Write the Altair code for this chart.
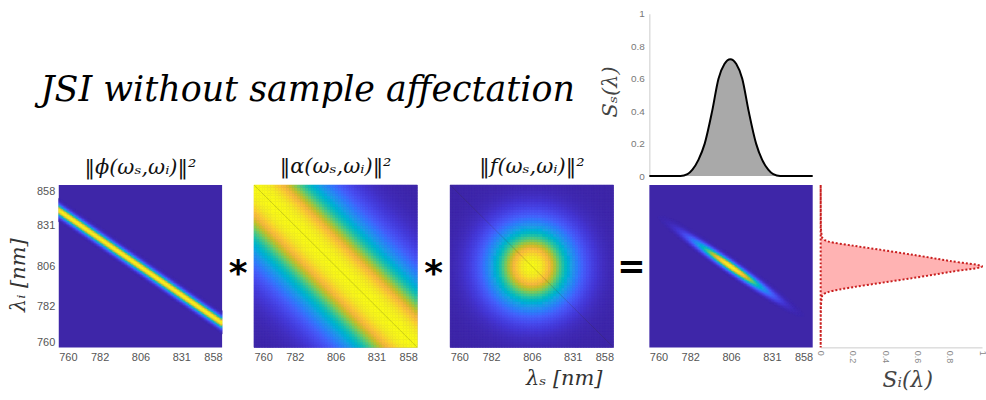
import json
import numpy as np
import pandas as pd
import altair as alt

# ---------------- data ----------------
TITLE = "JSI without sample affectation"
PANEL_TITLES = ["‖ϕ(ωₛ,ωᵢ)‖²", "‖α(ωₛ,ωᵢ)‖²", "‖f(ωₛ,ωᵢ)‖²"]
OPERATORS = ["*", "*", "="]
TICK_LABELS = ["760", "782", "806", "831", "858"]
LAM_MIN, LAM_MAX = 760.0, 858.0

# signal marginal (top)
SS_LAMBDA = [760, 776.9, 780.8, 783.6, 787.0, 790.6, 794.9, 798.6, 802.1, 805.6,
             809.2, 812.8, 816.7, 821.3, 825.1, 828.9, 832.1, 836.5, 858]
SS_VALUE = [0, 0, 0.012, 0.04, 0.1, 0.2, 0.4, 0.6, 0.69, 0.72,
            0.69, 0.6, 0.4, 0.2, 0.1, 0.04, 0.012, 0, 0]

# idler marginal (right)
SI_LAMBDA = [760, 781.0, 785.5, 788.7, 790.9, 793.6, 796.5, 799.4, 802.6, 805.9,
             809.2, 812.5, 815.6, 818.6, 821.1, 823.6, 826.7, 831.8, 858]
SI_VALUE = [0, 0.001, 0.004, 0.01, 0.05, 0.2, 0.4, 0.6, 0.8, 1.0,
            0.8, 0.6, 0.4, 0.2, 0.05, 0.01, 0.004, 0.001, 0]

MARGINAL_TICKS = [0, 0.2, 0.4, 0.6, 0.8, 1]

# degenerate anti-diagonal drawn faintly over the pump and filter maps
DIAG_SIGNAL = [760, 858]
DIAG_IDLER = [858, 760]

# model parameters of the three factor maps (axis units: 0 = 760 nm, 1 = 858 nm)
PM_INTERCEPT = 0.847
PM_SLOPE = -0.694
PM_WIDTH = 0.022
PUMP_WIDTH = 0.28
FILTER_CENTER = (0.5, 0.5)
FILTER_WIDTH = 0.171

PARULA = ["#3E26A8", "#4537D5", "#484DF0", "#4563FD", "#327CFC", "#2B91EF",
          "#20A5E3", "#08B5D0", "#19BFB6", "#37C897", "#64CD6F", "#9DC943",
          "#D1BF27", "#F8BA3D", "#FCCF30", "#F5E924", "#F9FB15"]


def lam_to_t(lam):
    lam = np.asarray(lam, dtype=float)
    return (1 / LAM_MIN - 1 / lam) / (1 / LAM_MIN - 1 / LAM_MAX)


def fields(n):
    c = (np.arange(n) + 0.5) / n
    S, I = np.meshgrid(c, c)
    phi = np.exp(-((I - (PM_INTERCEPT + PM_SLOPE * S)) ** 2) / (2 * PM_WIDTH ** 2))
    alpha = np.exp(-((I - (1 - S)) ** 2) / (2 * PUMP_WIDTH ** 2))
    f = np.exp(-((S - FILTER_CENTER[0]) ** 2 + (I - FILTER_CENTER[1]) ** 2) / (2 * FILTER_WIDTH ** 2))
    jsi = phi * alpha * f
    jsi = jsi / jsi.max()
    return phi, alpha, f, jsi


def to_df(V, threshold=0.0):
    n = V.shape[0]
    j, i = np.meshgrid(np.arange(n), np.arange(n))
    x0 = (j / n).ravel()
    y0 = (i / n).ravel()
    v = V.ravel()
    m = v > threshold
    return pd.DataFrame({"x0": np.round(x0[m], 5), "x1": np.round(x0[m] + 1 / n, 5),
                         "y0": np.round(y0[m], 5), "y1": np.round(y0[m] + 1 / n, 5),
                         "v": np.round(v[m], 4)})


phi_f, _, _, jsi_f = fields(110)
_, alpha_c, f_c, _ = fields(60)
df_phi = to_df(phi_f, 0.006)
df_alpha = to_df(alpha_c)
df_f = to_df(f_c)
df_jsi = to_df(jsi_f, 0.006)

ss_df = pd.DataFrame({"t": lam_to_t(SS_LAMBDA), "S": SS_VALUE})
si_df = pd.DataFrame({"t": lam_to_t(SI_LAMBDA), "S": SI_VALUE})
diag_df = pd.DataFrame({"ts": lam_to_t(DIAG_SIGNAL), "ti": lam_to_t(DIAG_IDLER)})

# ---------------- styling ----------------
W, H = 164, 163
LABEL_FONT = "Liberation Sans"
SERIF = "DejaVu Serif"
cscale = alt.Scale(domain=[0, 1], range=PARULA)
unit = alt.Scale(domain=[0, 1], nice=False, zero=False)
label_expr = json.dumps(TICK_LABELS) + "[round(datum.value*4)]"


def heat_axis(**kw):
    base = dict(values=[0, 0.25, 0.5, 0.75, 1], labelExpr=label_expr, ticks=False,
                domain=False, grid=False, labelFont=LABEL_FONT, labelFontSize=11,
                labelColor="#555555", labelPadding=4, labelFlush=True, labelOverlap=False,
                title=None, titleFont=SERIF, titleFontStyle="italic", titleFontWeight="normal",
                titleFontSize=21, titleColor="#333333")
    base.update(kw)
    return alt.Axis(**base)


def heat(df, title=None, yaxis=None, xaxis_kw=None, diag=False):
    props = dict(width=W, height=H, view=alt.ViewBackground(fill=PARULA[0], strokeWidth=0))
    if title:
        props["title"] = alt.TitleParams(text=title, font=SERIF, fontStyle="italic",
                                         fontWeight="normal", fontSize=21, color="#111111",
                                         offset=7, anchor="middle")
    xaxis = heat_axis(**(xaxis_kw or {}))
    rects = alt.Chart(df).mark_rect(strokeWidth=0.6).encode(
        x=alt.X("x0:Q", scale=unit, axis=xaxis),
        x2="x1:Q",
        y=alt.Y("y0:Q", scale=unit, axis=yaxis),
        y2="y1:Q",
        fill=alt.Fill("v:Q", scale=cscale, legend=None),
        stroke=alt.Stroke("v:Q", scale=cscale, legend=None),
    )
    if not diag:
        return rects.properties(**props)
    line = alt.Chart(diag_df).mark_line(color="#3a3020", strokeWidth=0.7, opacity=0.3).encode(
        x=alt.X("ts:Q", scale=unit, axis=xaxis), y=alt.Y("ti:Q", scale=unit, axis=yaxis))
    return alt.layer(rects, line).properties(**props)


p1 = heat(df_phi, PANEL_TITLES[0],
          yaxis=heat_axis(title="λᵢ [nm]", titleAngle=-90, titleX=-40, titleY=90,
                          titleAlign="center", titleBaseline="middle"))
p2 = heat(df_alpha, PANEL_TITLES[1], diag=True)
p3 = heat(df_f, PANEL_TITLES[2], diag=True,
          xaxis_kw=dict(title="λₛ [nm]", titleX=114, titleY=37, titleAlign="center",
                        titleBaseline="alphabetic"))
p4 = heat(df_jsi)


def text_cell(txt, w, x, y, **mark):
    return alt.Chart(pd.DataFrame({"s": [txt]})).mark_text(**mark).encode(
        text="s:N", x=alt.value(x), y=alt.value(y)).properties(width=w, height=H)


def op_chart(sym, w, size, dy):
    return text_cell(sym, w, w / 2, H / 2, font="DejaVu Sans", fontWeight="bold",
                     fontSize=size, align="center", baseline="alphabetic", dy=dy, color="black")


def blank(w):
    return text_cell("", w, 0, 0)


op1 = op_chart(OPERATORS[0], 32, 36, 19)
op2 = op_chart(OPERATORS[1], 33, 36, 19)
op3 = op_chart(OPERATORS[2], 36, 34, 12)

title_chart = text_cell(TITLE, W, 250, 77, font=SERIF, fontStyle="italic", fontSize=35,
                        align="center", baseline="middle", color="black")

top_axis = alt.Axis(values=MARGINAL_TICKS, format="~g", ticks=False, grid=False,
                    domainColor="#cccccc", labelColor="#777777", labelFontSize=10,
                    labelFont=LABEL_FONT, labelPadding=5, labelOverlap=False,
                    title="Sₛ(λ)", titleFont=SERIF,
                    titleFontStyle="italic", titleFontWeight="normal", titleFontSize=21,
                    titleColor="#444444", titleAngle=-90, titleX=-39, titleY=78,
                    titleAlign="center", titleBaseline="middle")
top_area = alt.Chart(ss_df).mark_area(color="#a9a9a9", interpolate="monotone").encode(
    x=alt.X("t:Q", scale=unit, axis=None),
    y=alt.Y("S:Q", scale=unit, axis=top_axis),
)
top_line = alt.Chart(ss_df).mark_line(color="black", strokeWidth=2, interpolate="monotone").encode(
    x=alt.X("t:Q", scale=unit, axis=None),
    y=alt.Y("S:Q", scale=unit, axis=top_axis),
)
top = alt.layer(top_area, top_line).properties(width=W, height=H)

rm_axis = alt.Axis(values=MARGINAL_TICKS, format="~g", ticks=False, grid=False,
                   labelAngle=90, domainColor="#cccccc", labelColor="#888888", labelFontSize=9,
                   labelFont=LABEL_FONT, labelPadding=3, labelOverlap=False,
                   title="Sᵢ(λ)", titleFont=SERIF,
                   titleFontStyle="italic", titleFontWeight="normal", titleFontSize=22,
                   titleColor="#444444", titleX=87, titleY=39, titleAlign="center",
                   titleBaseline="alphabetic")
rm = alt.Chart(si_df).mark_area(orient="horizontal", fill="#ffb3b3", stroke="#c81e1e",
                                strokeDash=[2, 2], strokeWidth=2, interpolate="monotone").encode(
    y=alt.Y("t:Q", scale=unit, axis=None),
    x=alt.X("S:Q", scale=unit, axis=rm_axis),
).properties(width=162, height=H)

cells = [title_chart, blank(32), blank(W), blank(33), blank(W), blank(36), top, blank(8), blank(162),
         p1, op1, p2, op2, p3, op3, p4, blank(8), rm]
chart = alt.concat(*cells, columns=9, bounds="flush", align="each",
                   spacing={"row": 9, "column": 0}).properties(
    padding={"left": 8, "top": 7, "right": 0, "bottom": 0},
    background="white",
).configure_view(strokeWidth=0)

chart.save("out.html", embed_options={"renderer": "svg", "actions": False})
